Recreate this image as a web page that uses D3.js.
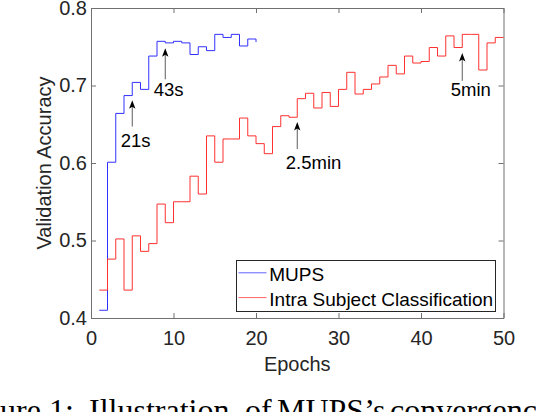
<!DOCTYPE html>
<html><head><meta charset="utf-8">
<script src="https://cdn.jsdelivr.net/npm/d3@7"></script>
<style>body{margin:0;background:#fff}svg{display:block}</style></head>
<body><svg id="c" width="536" height="412"></svg>
<script>
// ---- data ----
const epochsMups = [1,2,3,4,5,6,7,8,9,10,11,12,13,14,15,16,17,18,19,20];
const accMups = [0.410,0.601,0.664,0.687,0.704,0.695,0.738,0.757,0.755,0.757,
                 0.755,0.740,0.750,0.745,0.766,0.762,0.766,0.751,0.760,0.756];
const epochsIntra = [1,2,3,4,5,6,7,8,9,10,11,12,13,14,15,16,17,18,19,20,
                     21,22,23,24,25,26,27,28,29,30,31,32,33,34,35,36,37,38,39,40,
                     41,42,43,44,45,46,47,48,49,50];
const accIntra = [0.436,0.476,0.502,0.436,0.506,0.486,0.496,0.547,0.523,0.550,
                  0.550,0.583,0.560,0.635,0.601,0.631,0.631,0.658,0.635,0.625,
                  0.612,0.647,0.661,0.659,0.683,0.690,0.671,0.691,0.673,0.695,
                  0.717,0.689,0.695,0.702,0.711,0.726,0.715,0.738,0.729,0.731,
                  0.749,0.738,0.764,0.749,0.766,0.766,0.720,0.755,0.762,0.762];
const seriesNames = ["MUPS","Intra Subject Classification"];
const seriesColors = ["#3030ff","#ff3030"];
const xTicks = [0,10,20,30,40,50];
const yTicks = [0.4,0.5,0.6,0.7,0.8];
const annLabels = ["21s","43s","2.5min","5min"];
const annEpochs = [5,9,25,45];
const annTipAcc = [0.681,0.748,0.653,0.742];
const annTailAcc = [0.647,0.708,0.618,0.706];
const annTextAcc = [0.621,0.687,0.592,0.687];
const captionWords = ["Figure","1:","Illustration","of","MUPS\u2019s","convergence"];

// ---- layout ----
const svg = d3.select("#c");
const L = 91, R = 503.5, T = 8, B = 318;
const x = d3.scaleLinear().domain([0,50]).range([L,R]);
const y = d3.scaleLinear().domain([0.4,0.8]).range([B,T]);
const font = "'Liberation Sans', Arial, Helvetica, sans-serif";
const axisCol = "#707070", textCol = "#262626";

svg.append("rect").attr("width",536).attr("height",412).attr("fill","#fff");

function styleAxis(g){
  g.selectAll(".domain").attr("stroke",axisCol).attr("stroke-width",1);
  g.selectAll(".tick line").attr("stroke",axisCol).attr("stroke-width",1);
  g.selectAll(".tick text").attr("fill",textCol).style("font-family",font).style("font-size","20px");
}
svg.append("g").attr("transform",`translate(0,${B})`)
  .call(d3.axisBottom(x).tickValues(xTicks).tickSizeInner(-5).tickSizeOuter(0).tickPadding(13).tickFormat(d3.format("d")))
  .call(styleAxis);
svg.append("g").attr("transform",`translate(0,${T})`)
  .call(d3.axisTop(x).tickValues(xTicks).tickSizeInner(-5).tickSizeOuter(0).tickFormat(""))
  .call(styleAxis);
svg.append("g").attr("transform",`translate(${L},0)`)
  .call(d3.axisLeft(y).tickValues(yTicks).tickSizeInner(-5).tickSizeOuter(0).tickPadding(4).tickFormat(d3.format(".1f")))
  .call(styleAxis);
svg.append("g").attr("transform",`translate(${R},0)`)
  .call(d3.axisRight(y).tickValues(yTicks).tickSizeInner(-5).tickSizeOuter(0).tickFormat(""))
  .call(styleAxis);

// axis titles
svg.append("text").attr("x",(L+R)/2).attr("y",371).attr("text-anchor","middle")
  .attr("fill",textCol).style("font-family",font).style("font-size","20px").text("Epochs");
svg.append("text").attr("transform",`translate(50.5,${(T+B)/2}) rotate(-90)`).attr("text-anchor","middle")
  .attr("fill",textCol).style("font-family",font).style("font-size","20px").text("Validation Accuracy");

// stairs
const stair = d3.line().x(d=>x(d[0])).y(d=>y(d[1])).curve(d3.curveStepAfter);
const series = [d3.zip(epochsMups,accMups), d3.zip(epochsIntra,accIntra)];
series.forEach((s,i)=>{
  svg.append("path").datum(s).attr("d",stair).attr("fill","none")
    .attr("stroke",seriesColors[i]).attr("stroke-width",1);
});

// annotations
annLabels.forEach((lab,i)=>{
  const ax = x(annEpochs[i]), tip = y(annTipAcc[i]), tail = y(annTailAcc[i]);
  svg.append("line").attr("x1",ax).attr("x2",ax).attr("y1",tail).attr("y2",tip+6)
    .attr("stroke","#333").attr("stroke-width",0.8);
  svg.append("path").attr("d",`M${ax},${tip} L${ax-3.2},${tip+8.5} L${ax},${tip+6.5} L${ax+3.2},${tip+8.5} Z`)
    .attr("fill","#000");
  svg.append("text").attr("x",ax-11.5).attr("y",y(annTextAcc[i]))
    .attr("fill","#000").style("font-family",font).style("font-size","18.5px").text(lab);
});

// legend
const lg = svg.append("g");
lg.append("rect").attr("x",236.5).attr("y",260.5).attr("width",259).attr("height",51)
  .attr("fill","#fff").attr("stroke","#262626").attr("stroke-width",1);
seriesNames.forEach((n,i)=>{
  const ly = 272.8 + i*24.8;
  lg.append("line").attr("x1",238.5).attr("x2",266.5).attr("y1",ly).attr("y2",ly)
    .attr("stroke",seriesColors[i]).attr("stroke-width",1).attr("opacity",0.75);
  lg.append("text").attr("x",269.3).attr("y",ly+8.6).attr("fill","#000")
    .style("font-family",font).style("font-size","19px").text(n);
});

// caption (cut off at bottom as in the reference)
const capFont = "'Liberation Serif', 'Times New Roman', serif";
const capSize = "32px";
const capX = [null,49,89,245,277,390];
const cap = svg.append("text").attr("y",420.5).attr("fill","#000")
  .style("font-family",capFont).style("font-size",capSize);
const tmp = svg.append("text").style("font-family",capFont).style("font-size",capSize).text("Fig");
const figW = tmp.node().getComputedTextLength(); tmp.remove();
captionWords.forEach((w,i)=>{
  cap.append("tspan").attr("x", i===0 ? -figW : capX[i]).text(w);
});
</script></body></html>
